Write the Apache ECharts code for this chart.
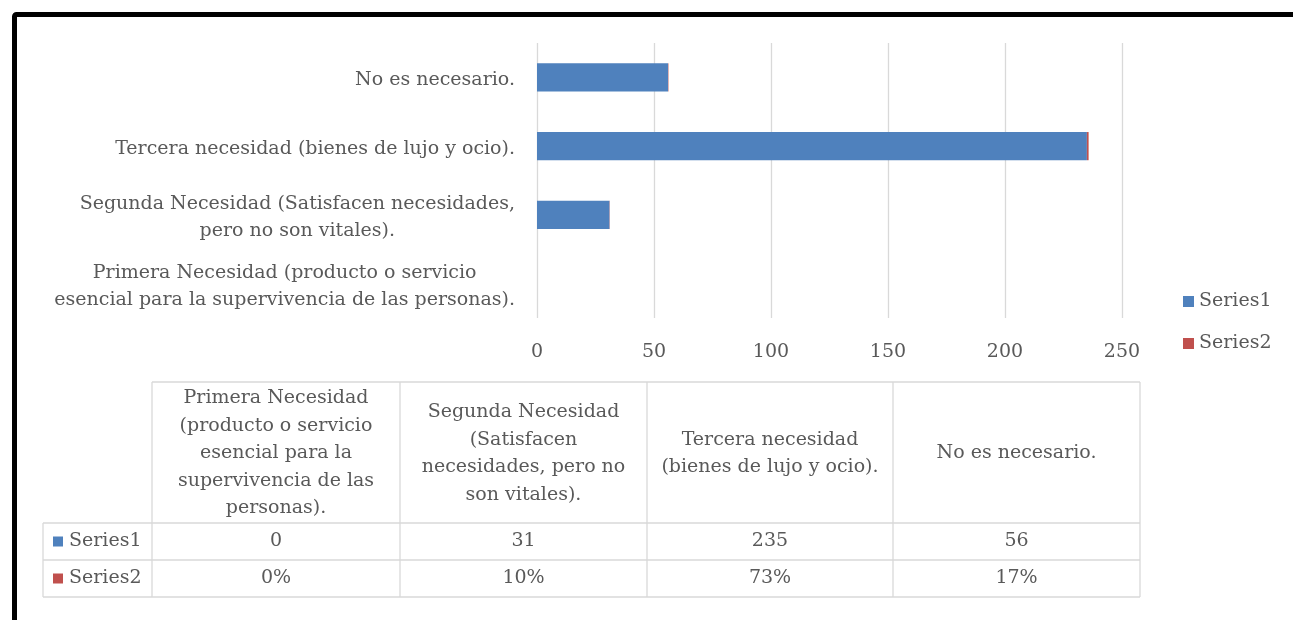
<!DOCTYPE html>
<html>
<head>
<meta charset="utf-8">
<script src="https://cdn.jsdelivr.net/npm/echarts@6/dist/echarts.min.js"></script>
<style>
    html, body { margin: 0; padding: 0; background: #fff; }
    #chart { width: 1293px; height: 620px; }
</style>
</head>
<body>
<div id="chart"></div>
<script>
    // data
    var categories = [
        'Primera Necesidad (producto o servicio esencial para la supervivencia de las personas).',
        'Segunda Necesidad (Satisfacen necesidades, pero no son vitales).',
        'Tercera necesidad (bienes de lujo y ocio).',
        'No es necesario.'
    ];
    // wrapped versions, as the original shows them
    var axisLabels = [
        'Primera Necesidad (producto o servicio\nesencial para la supervivencia de las personas).',
        'Segunda Necesidad (Satisfacen necesidades,\npero no son vitales).',
        'Tercera necesidad (bienes de lujo y ocio).',
        'No es necesario.'
    ];
    var tableHeaders = [
        'Primera Necesidad\n(producto o servicio\nesencial para la\nsupervivencia de las\npersonas).',
        'Segunda Necesidad\n(Satisfacen\nnecesidades, pero no\nson vitales).',
        'Tercera necesidad\n(bienes de lujo y ocio).',
        'No es necesario.'
    ];
    var seriesNames = ['Series1', 'Series2'];
    var series1 = [0, 31, 235, 56];
    var series2 = [0, 0.10, 0.73, 0.17];
    var xMax = 250;
    var xStep = 50;

    var colors = ['#4f81bd', '#c0504d'];
    var textColor = '#595959';
    var gridColor = '#d9d9d9';
    var fontFamily = '"DejaVu Serif", serif';
    var fontSize = 19;

    var myChart = echarts.init(document.getElementById('chart'));

    // data table under the chart
    function buildTable() {
        var colX = [43, 152, 400, 647, 893, 1140];
        var rowY = [382, 523, 560, 597];
        var els = [];
        function line(x1, y1, x2, y2) {
            els.push({
                type: 'line',
                shape: {x1: x1, y1: y1, x2: x2, y2: y2},
                style: {stroke: gridColor, lineWidth: 1.3}
            });
        }
        function text(x, y, t, align) {
            els.push({
                type: 'text', x: x, y: y,
                style: {
                    text: t, fill: textColor, fontFamily: fontFamily, fontSize: fontSize,
                    lineHeight: 27.5, align: align || 'center', verticalAlign: 'middle'
                }
            });
        }
        line(colX[1], rowY[0], colX[5], rowY[0]);
        for (var r = 1; r < rowY.length; r++) line(colX[0], rowY[r], colX[5], rowY[r]);
        line(colX[0], rowY[1], colX[0], rowY[3]);
        for (var c = 1; c < colX.length; c++) line(colX[c], rowY[0], colX[c], rowY[3]);

        var rows = [
            series1.map(function (v) { return String(v); }),
            series2.map(function (v) { return Math.round(v * 100) + '%'; })
        ];
        tableHeaders.forEach(function (h, i) {
            text((colX[i + 1] + colX[i + 2]) / 2, (rowY[0] + rowY[1]) / 2 + 1, h);
        });
        rows.forEach(function (row, r) {
            var cy = (rowY[r + 1] + rowY[r + 2]) / 2;
            els.push({
                type: 'rect',
                shape: {x: 53, y: cy - 5, width: 10, height: 10},
                style: {fill: colors[r]}
            });
            text(69, cy, seriesNames[r], 'left');
            row.forEach(function (v, i) {
                text((colX[i + 1] + colX[i + 2]) / 2, cy, v);
            });
        });
        // black frame of the picture
        els.push({
            type: 'rect',
            shape: {x: 14.5, y: 14.5, width: 1400, height: 800, r: 2},
            style: {fill: 'none', stroke: '#000', lineWidth: 5}
        });
        return els;
    }

    var chartOption = {
        animation: false,
        textStyle: {fontFamily: fontFamily},
        legend: {
            data: seriesNames,
            orient: 'vertical',
            left: 1178,
            top: 287,
            itemWidth: 11,
            itemHeight: 11,
            itemGap: 23,
            icon: 'rect',
            textStyle: {color: textColor, fontSize: fontSize, fontFamily: fontFamily}
        },
        grid: {
            left: 537,
            right: 171,
            top: 43,
            bottom: 302,
            containLabel: false
        },
        xAxis: {
            type: 'value',
            min: 0,
            max: xMax,
            interval: xStep,
            axisLine: {show: false},
            axisTick: {show: false},
            axisLabel: {color: textColor, fontSize: fontSize, fontFamily: fontFamily, margin: 25},
            splitLine: {lineStyle: {color: gridColor, width: 1.3}}
        },
        yAxis: {
            type: 'category',
            data: categories,
            axisLine: {show: false},
            axisTick: {show: false},
            axisLabel: {
                color: textColor, fontSize: fontSize, fontFamily: fontFamily,
                margin: 22, align: 'right', padding: [5, 0, 0, 0],
                // lines centred inside the right-aligned block
                formatter: function (v, i) {
                    return axisLabels[i].split('\n').map(function (s) {
                        return '{c|' + s + '}';
                    }).join('\n');
                },
                rich: {
                    c: {
                        align: 'center', color: textColor, fontSize: fontSize,
                        fontFamily: fontFamily, lineHeight: 27
                    }
                }
            }
        },
        series: [
            {
                name: seriesNames[0],
                type: 'bar',
                stack: 'all',
                data: series1,
                barCategoryGap: '59%',
                itemStyle: {color: colors[0]}
            },
            {
                name: seriesNames[1],
                type: 'bar',
                stack: 'all',
                data: series2,
                itemStyle: {color: colors[1]}
            }
        ],
        graphic: {elements: buildTable()}
    };

    myChart.setOption(chartOption);
</script>
</body>
</html>
